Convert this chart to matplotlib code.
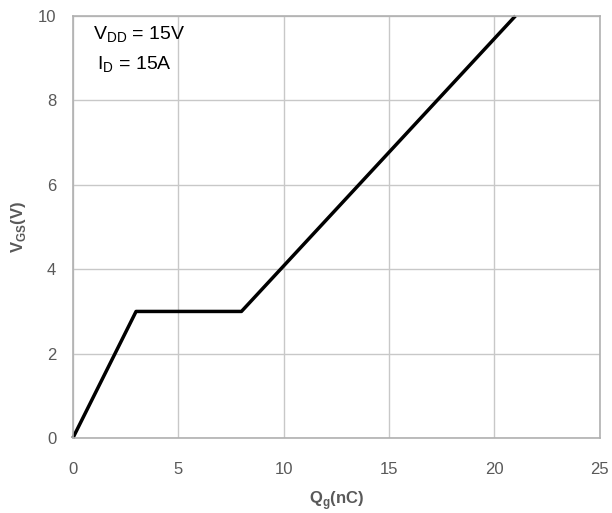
import matplotlib
matplotlib.use("Agg")
import matplotlib.pyplot as plt

plt.rcParams['font.family'] = ['Liberation Sans', 'DejaVu Sans']

# gate charge curve
qg = [0, 3, 8, 21]
vgs = [0, 3, 3, 10]

xticks = [0, 5, 10, 15, 20, 25]
yticks = [0, 2, 4, 6, 8, 10]

fig = plt.figure(figsize=(6.12, 5.13), dpi=100)
ax = fig.add_axes([0.119, 0.146, 0.861, 0.823])

ax.plot(qg, vgs, color='black', linewidth=2.5, solid_capstyle='butt', clip_on=False)

ax.set_xlim(0, 25)
ax.set_ylim(0, 10)
ax.set_xticks(xticks)
ax.set_yticks(yticks)
ax.grid(True, color='#c8c8c8', linewidth=1.0)
ax.set_axisbelow(True)
for s in ax.spines.values():
    s.set_color('#b0b0b0')
    s.set_linewidth(1.2)
ax.tick_params(length=0, labelsize=12, colors='#595959')
ax.tick_params(axis='x', pad=17)
ax.tick_params(axis='y', pad=12)

ax.set_xlabel('Q$_\\mathregular{g}$(nC)', fontsize=12, fontweight='bold', color='#595959', labelpad=9)
ax.set_ylabel('V$_\\mathregular{GS}$(V)', fontsize=12, fontweight='bold', color='#595959', labelpad=7)

ax.text(0.95, 9.55, 'V$_\\mathregular{DD}$ = 15V', fontsize=14, color='black', va='center')
ax.text(1.15, 8.85, 'I$_\\mathregular{D}$ = 15A', fontsize=14, color='black', va='center')

fig.savefig('out.png', dpi=100)
